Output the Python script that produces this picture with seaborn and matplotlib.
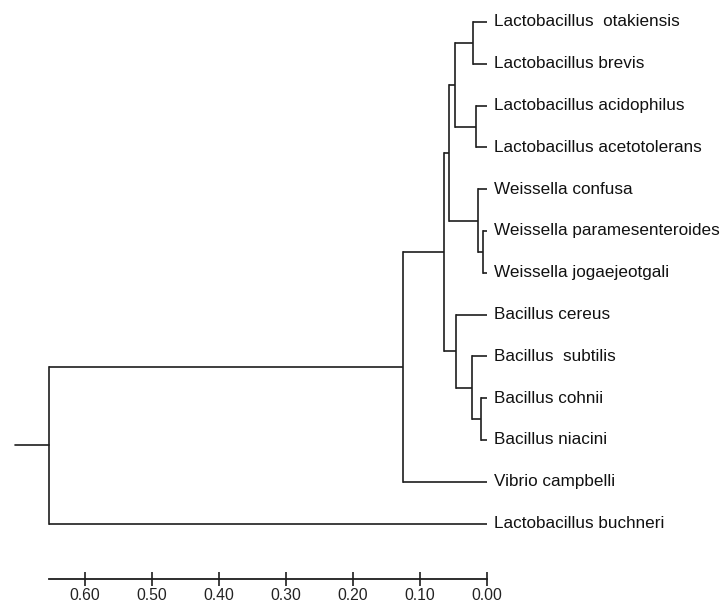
import numpy as np
import matplotlib
matplotlib.use("Agg")
import matplotlib.pyplot as plt
import seaborn as sns

# leaves, top to bottom
leaves = ["Lactobacillus  otakiensis", "Lactobacillus brevis",
          "Lactobacillus acidophilus", "Lactobacillus acetotolerans",
          "Weissella confusa", "Weissella paramesenteroides",
          "Weissella jogaejeotgali", "Bacillus cereus", "Bacillus  subtilis",
          "Bacillus cohnii", "Bacillus niacini", "Vibrio campbelli",
          "Lactobacillus buchneri"]

# merges: node 13 onwards joins merge_a[i] and merge_b[i] at merge_height[i]
merge_a = [0, 2, 13, 5, 4, 15, 9, 8, 7, 18, 22, 23]
merge_b = [1, 3, 14, 6, 16, 17, 10, 19, 20, 21, 11, 12]
merge_height = [0.021, 0.017, 0.048, 0.0055, 0.013, 0.057,
                0.0094, 0.023, 0.046, 0.064, 0.126, 0.653]
root_stub = 0.704

tick_vals = [0.6, 0.5, 0.4, 0.3, 0.2, 0.1, 0.0]

sns.set_style("white")
plt.rcParams['font.family'] = ['Liberation Sans', 'DejaVu Sans']

fig = plt.figure(figsize=(7.25, 6.02), dpi=100)
ax = fig.add_axes([0, 23 / 602, 1, 579 / 602])

n = len(leaves)
ypos = {i: float(i) for i in range(n)}
xpos = {i: 0.0 for i in range(n)}
lc = "#1e1e1e"
lw = 1.2

for k, (a, b, h) in enumerate(zip(merge_a, merge_b, merge_height)):
    node = n + k
    ax.plot([xpos[a], h], [ypos[a], ypos[a]], color=lc, lw=lw, solid_capstyle="butt")
    ax.plot([xpos[b], h], [ypos[b], ypos[b]], color=lc, lw=lw, solid_capstyle="butt")
    ax.plot([h, h], [ypos[a], ypos[b]], color=lc, lw=lw, solid_capstyle="projecting")
    ypos[node] = (ypos[a] + ypos[b]) / 2
    xpos[node] = h

root = n + len(merge_height) - 1
ax.plot([root_stub, xpos[root]], [ypos[root], ypos[root]], color=lc, lw=lw)

for i, name in enumerate(leaves):
    ax.text(-0.0105, i, name, ha="left", va="center", fontsize=12.3, color="#111111")

# x range: 0.00 at px 487, 0.10 per 67 px
ax.set_xlim(487 / 670, (487 - 725) / 670)
ax.set_ylim((579 - 22) / 41.8, -22 / 41.8)

sns.despine(ax=ax, left=True, top=True, right=True)
ax.spines["bottom"].set_bounds(0.0, 0.654)
ax.spines["bottom"].set_color(lc)
ax.spines["bottom"].set_linewidth(1.3)
ax.set_xticks(tick_vals)
ax.set_xticklabels(["%.2f" % v for v in tick_vals])
ax.tick_params(axis="x", bottom=True, direction="inout", length=9.5, width=1.2,
               color=lc, labelsize=11.3, pad=2, labelcolor="#222222")
ax.set_yticks([])
ax.set_facecolor("white")

fig.savefig("out.png", dpi=100, facecolor="white")
